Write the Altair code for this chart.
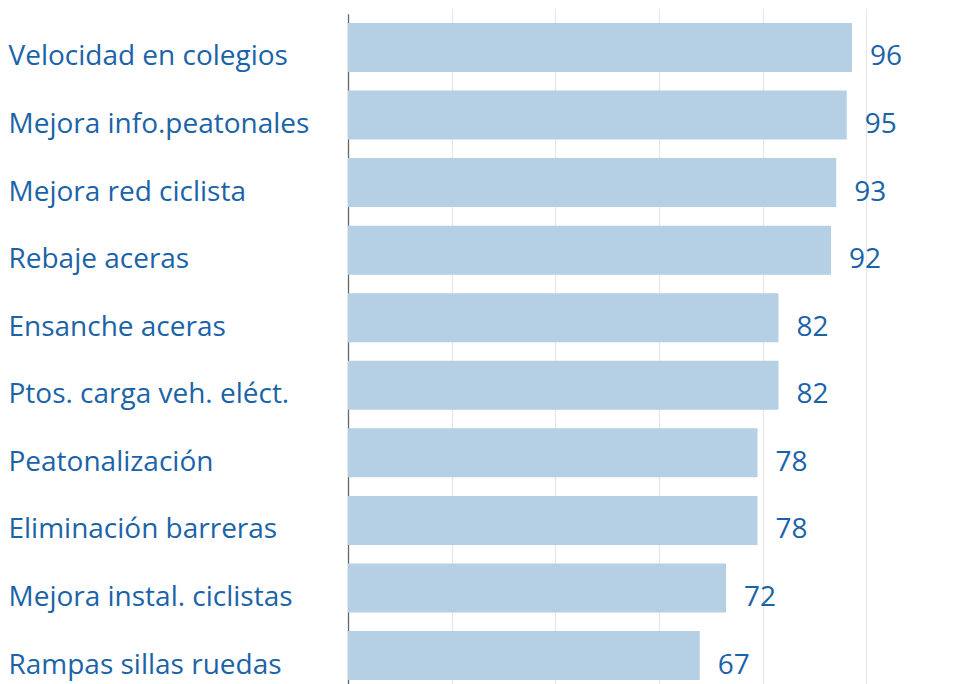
import altair as alt
import pandas as pd

categories = ["Velocidad en colegios", "Mejora info.peatonales", "Mejora red ciclista",
              "Rebaje aceras", "Ensanche aceras", "Ptos. carga veh. eléct.",
              "Peatonalización", "Eliminación barreras", "Mejora instal. ciclistas",
              "Rampas sillas ruedas"]
values = [96, 95, 93, 92, 82, 82, 78, 78, 72, 67]
grid_values = [19.75, 39.5, 59.25, 79, 98.75]

df = pd.DataFrame({"cat": categories, "val": values})

FONT = "Open Sans"
BLUE = "#1b63a8"
BAR = "#b5d0e5"
STEP = 67.56

y_scale = alt.Scale(domain=categories, range=[0, STEP * len(categories)],
                    paddingInner=0.275, paddingOuter=0.1375)
x_scale = alt.Scale(domain=[0, 100], nice=False, zero=True)

y_enc = alt.Y("cat:N", sort=categories, scale=y_scale,
              axis=alt.Axis(title=None, ticks=False, labelAlign="left", labelPadding=340,
                            labelBaseline="alphabetic", labelOffset=18, labelFontSize=28,
                            labelFont=FONT, labelColor=BLUE, domainColor="#666666",
                            domainWidth=1.3, grid=False, labelLimit=0))

bars = alt.Chart(df).mark_bar(color=BAR).encode(
    y=y_enc,
    x=alt.X("val:Q", scale=x_scale,
            axis=alt.Axis(values=grid_values, labels=False, ticks=False, domain=False,
                          grid=True, gridColor="#e8e8e8", gridWidth=1.3, title=None)),
)

text = alt.Chart(df).mark_text(align="left", baseline="alphabetic", dx=18, dy=18,
                               font=FONT, fontSize=28, color=BLUE).encode(
    y=alt.Y("cat:N", sort=categories, scale=y_scale),
    x=alt.X("val:Q", scale=x_scale),
    text="val:Q",
)

chart = alt.layer(bars, text).properties(
    width=525, height=670,
    autosize=alt.AutoSizeParams(type="none"),
    padding={"left": 340, "top": 5.7, "right": 78, "bottom": 0},
).configure_view(stroke=None)

chart.save("out.html", embed_options={"renderer": "svg", "actions": False})
